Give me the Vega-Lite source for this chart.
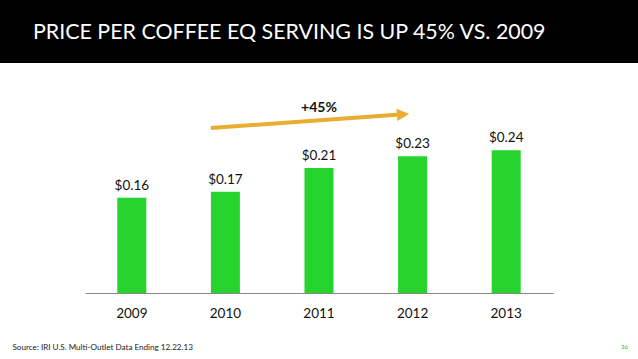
{
  "$schema": "https://vega.github.io/schema/vega-lite/v6.json",
  "width": 638,
  "height": 296,
  "autosize": {"type": "none"},
  "padding": {"top": 63, "left": 0, "right": 0, "bottom": 0},
  "background": "#000000",
  "config": {"view": {"fill": "#ffffff", "stroke": null}},
  "title": {
    "text": "PRICE PER COFFEE EQ SERVING IS UP 45% VS. 2009",
    "anchor": "start",
    "frame": "group",
    "color": "#ffffff",
    "font": "Lato",
    "fontSize": 21.4,
    "fontWeight": "normal",
    "baseline": "alphabetic",
    "offset": 3,
    "dx": 33
  },
  "data": {
    "values": [
      {"year": "2009", "price": 0.16, "label": "$0.16"},
      {"year": "2010", "price": 0.17, "label": "$0.17"},
      {"year": "2011", "price": 0.21, "label": "$0.21"},
      {"year": "2012", "price": 0.23, "label": "$0.23"},
      {"year": "2013", "price": 0.24, "label": "$0.24"}
    ]
  },
  "layer": [
    {
      "mark": {"type": "bar", "color": "#26d42d"},
      "encoding": {
        "x": {
          "field": "year",
          "type": "nominal",
          "scale": {"range": [85, 553], "paddingInner": 0.69, "paddingOuter": 0.345},
          "axis": {
            "orient": "bottom",
            "offset": -66,
            "domainColor": "#888888",
            "domainWidth": 1,
            "ticks": false,
            "labelAngle": 0,
            "labelFont": "Lato",
            "labelFontSize": 13.5,
            "labelColor": "#111111",
            "labelPadding": 13,
            "title": "Source: IRI  U.S. Multi-Outlet Data Ending 12.22.13",
            "titleFont": "Lato",
            "titleFontSize": 8.1,
            "titleFontWeight": "normal",
            "titleColor": "#222222",
            "titleAnchor": "start",
            "titleAlign": "left",
            "titleBaseline": "alphabetic",
            "titleX": 12,
            "titleY": 56
          }
        },
        "y": {
          "field": "price",
          "type": "quantitative",
          "scale": {"domain": [0, 0.3866], "range": [230, 0], "nice": false, "zero": true},
          "axis": null
        }
      }
    },
    {
      "mark": {"type": "text", "font": "Lato", "fontSize": 13.5, "color": "#111111", "baseline": "alphabetic", "dy": -8},
      "encoding": {
        "x": {"field": "year", "type": "nominal"},
        "y": {"field": "price", "type": "quantitative"},
        "text": {"field": "label"}
      }
    },
    {
      "data": {"values": [{}]},
      "mark": {"type": "rule", "color": "#e9ad31", "strokeWidth": 4, "strokeCap": "butt"},
      "encoding": {
        "x": {"datum": "2010", "type": "nominal", "bandPosition": 0},
        "x2": {"datum": "2012", "bandPosition": 0.065},
        "y": {"datum": 0.2773, "type": "quantitative"},
        "y2": {"datum": 0.3}
      }
    },
    {
      "data": {"values": [{}]},
      "mark": {"type": "point", "shape": "M-1,-1L1,0L-1,1Z", "filled": true, "color": "#e9ad31", "opacity": 1, "size": 150, "angle": 356, "strokeWidth": 0},
      "encoding": {
        "x": {"datum": "2012", "type": "nominal", "bandPosition": 0.17},
        "y": {"datum": 0.3, "type": "quantitative"}
      }
    },
    {
      "data": {"values": [{}]},
      "mark": {"type": "text", "text": "+45%", "font": "Lato", "fontSize": 14, "fontWeight": "bold", "color": "#111111", "baseline": "alphabetic"},
      "encoding": {
        "x": {"datum": "2011", "type": "nominal"},
        "y": {"datum": 0.304, "type": "quantitative"}
      }
    },
    {
      "data": {"values": [{}]},
      "mark": {"type": "text", "text": "36", "font": "Lato", "fontSize": 6, "color": "#3cb043", "baseline": "alphabetic"},
      "encoding": {
        "x": {"datum": "2013", "type": "nominal", "bandPosition": 4.58},
        "y": {"datum": -0.094, "type": "quantitative"}
      }
    }
  ]
}
